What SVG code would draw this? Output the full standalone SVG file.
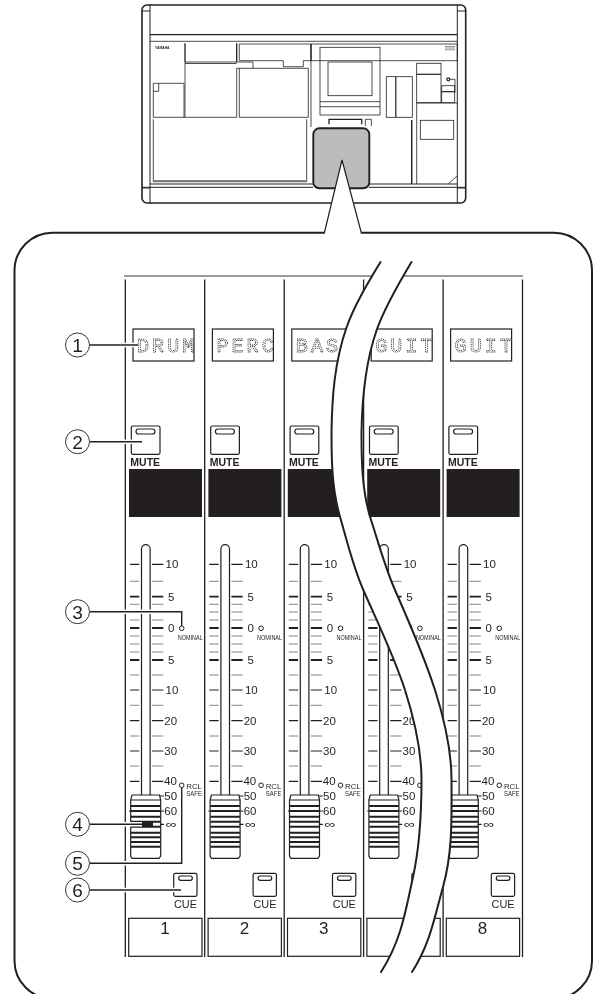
<svg xmlns="http://www.w3.org/2000/svg" xmlns:xlink="http://www.w3.org/1999/xlink" width="594" height="994" viewBox="0 0 594 994">
<style>
text{font-family:"Liberation Sans",Arial,sans-serif;fill:#231f20}
.l{fill:none;stroke:#231f20;stroke-width:.8}
.m{fill:none;stroke:#231f20;stroke-width:1.2}
.h{fill:none;stroke:#231f20;stroke-width:1.8}
.k{fill:none;stroke:#231f20;stroke-width:2.1}
.g{fill:none;stroke:#777;stroke-width:.9}
.d{font-family:"Liberation Mono",monospace;font-size:20px;letter-spacing:3.1px;fill:#fff;stroke:#333;stroke-width:.85;stroke-dasharray:1.1 .8}
.mu{font-size:10.5px;font-weight:bold}
.n{font-size:11.5px}
.sm{font-size:7px}
.cu{font-size:11px}
.nu{font-size:17px;text-anchor:middle}
.c{font-size:19px;text-anchor:middle}
.inf{font-size:11px}
.cir{fill:#fff;stroke:#231f20;stroke-width:.9}
.halo{fill:none;stroke:#fff;stroke-width:4.5}
.co{fill:none;stroke:#231f20;stroke-width:1.4}
</style>
<defs>
<filter id="gs" filterUnits="userSpaceOnUse" x="0" y="0" width="594" height="994" color-interpolation-filters="sRGB"><feOffset dx="0" dy="0"/></filter>
<g id="hw">
<rect class="m" x="133" y="329" width="61" height="32"/>
<rect class="m" x="131.3" y="426" width="28.7" height="28.3" rx="1.5"/>
<rect class="m" x="136" y="429" width="19" height="5" rx="2.5"/>
<rect x="129" y="469" width="73" height="48" fill="#231f20"/>
<path class="m" d="M141.5 796V549a4.3 4.3 0 0 1 8.6 0V796"/>
<path class="m" d="M130 564.3h9.3M152 564.3h11.3M130 690h9.3M152 690h11.3M130 720.7h9.3M152 720.7h11.3M130 751h9.3M152 751h11.3M130 781.3h9.3M152 781.3h11.3"/>
<path class="g" d="M130 581.3h9.3M152 581.3h11.3M130 604.3h9.3M152 604.3h11.3M130 612h9.3M152 612h11.3M130 620h9.3M152 620h11.3M130 636h9.3M152 636h11.3M130 644h9.3M152 644h11.3M130 652h9.3M152 652h11.3M130 675h9.3M152 675h11.3M130 705.3h9.3M152 705.3h11.3M130 736h9.3M152 736h11.3M130 766h9.3M152 766h11.3"/>
<path class="h" d="M130 596.7h9.3M152 596.7h11.3M130 628h9.3M152 628h11.3M130 660h9.3M152 660h11.3"/>
<circle cx="181.7" cy="628.3" r="2.3" fill="#fff" stroke="#231f20"/>
<circle cx="181.7" cy="785.3" r="2.3" fill="#fff" stroke="#231f20"/>
<path d="M132 795H159.5L160.7 800V856L159 858.3H132L130.7 856V800Z" fill="#fff" stroke="#231f20" stroke-width="1.2"/>
<path class="m" d="M130.7 800H160.7M129 811h2M160 796h4M160 811h4M160 824.3h4"/>
<path class="k" d="M131 806H160.5M131 811H160.5M131 816.7H160.5M131 821.7H160.5M131 826.7H160.5M131 832.7H160.5M131 837.3H160.5M131 842H160.5M131 846.7H160.5"/>
<rect class="m" x="173.7" y="873.3" width="23.3" height="23" rx="1.5"/>
<rect class="m" x="178.7" y="876" width="13.6" height="4.3" rx="2"/>
<rect class="m" x="128.7" y="918.3" width="73.3" height="38"/>
</g>
</defs>
<g id="diagram" filter="url(#gs)">
<g id="callout-frame">
<rect x="14.5" y="232.7" width="577.5" height="766" rx="38" fill="#fff" stroke="#231f20" stroke-width="2"/>
</g>
<g id="console" class="l">
<rect x="142" y="5" width="323.7" height="198" rx="5" fill="#fff" stroke-width="1.6"/>
<path d="M150 5V203M457.3 5V203M142 11H150M457.3 11H465.7M142 188H150M457.3 188H465.7" stroke-width="1"/>
<path d="M150 34.7H457.3" stroke-width="1.3"/>
<path d="M150 41.3H457.3"/>
<path d="M150 184H313M369 184H457.3M142 187.3H313M369 187.3H465.7" stroke-width="1"/>
<path d="M185 43.3V62M236.7 43.3V62" stroke-width="1.3"/>
<path d="M185 62H253V68.3M236.7 68.3H308.3V117.3H239.3V68.3M185 63.5H236.7"/>
<path d="M236.7 68.3V117.3H153.3V83.3H184V117.3M185 62V117.3M153.3 91.3H158.7V83.3"/>
<path d="M153.3 119.3V181.7H306.7V119.3"/>
<path d="M153.3 180.6H306.7" stroke="#888" stroke-width="1.4"/>
<path d="M239.3 60.7V44H457.3V60.7H303.3V66.7H283.3V60.7H239.3"/>
<path d="M311 44V60.7" stroke-width="1.6"/>
<path d="M311 60.7V127"/>
<rect x="320" y="47.3" width="60" height="67.7"/>
<path d="M320 101.7H380M320 106.7H380"/>
<rect x="328" y="62" width="44" height="33.7"/>
<path d="M329 124.3V119.3H361.7V124.3" stroke-width="1.3"/>
<path d="M365.3 126V119.3H371.3V126"/>
<rect x="386.3" y="76.7" width="26" height="40.6"/>
<path d="M395.8 76.7V117.3" stroke-width="1.2"/>
<path d="M411.7 120V184" stroke-width="1.4"/>
<rect x="416.7" y="63.3" width="24.3" height="39.4"/>
<path d="M416.7 74.3H441" stroke-width="1.2"/>
<path d="M416.7 103H457.3M416.7 103V184"/>
<circle cx="448.3" cy="79.3" r="1.5" fill="#fff" stroke-width="1.3"/>
<path d="M450 79.3H455V92.7"/>
<rect x="441.7" y="85.7" width="13" height="17"/>
<path d="M441.7 91.7H454.7" stroke-width="1.2"/>
<rect x="420.3" y="120.3" width="33.4" height="19"/>
<path d="M448.3 184L457 176"/>
<path d="M445 46.5h10M445 48h10M445 49.8h10" stroke="#777"/>
<rect x="313.3" y="128.3" width="56" height="60" rx="6" fill="#bbbcbe" stroke-width="1.9"/>
</g>
<text x="155" y="48.5" font-size="3.4" font-weight="bold">YAMAHA</text>
<g id="pointer">
<path d="M324.2 236V233L342 160L361.5 233V236Z" fill="#fff"/>
<path class="m" d="M324.2 233.5L342 160L361.5 233.5" stroke-width="1.5"/>
</g>
<g id="strip-lines" class="m">
<path d="M124 276H523" stroke-width=".9"/>
<path d="M125.3 279.5V957M204.7 279.5V957M284.2 279.5V957M363.6 279.5V957M443.1 279.5V957M522.5 279.5V957" stroke-width="1.3"/>
</g>
<g id="strip-1"><use href="#hw" xlink:href="#hw"/>
<text class="d" x="137" y="352">DRUM</text><text class="mu" x="130.3" y="466">MUTE</text>
<text class="n" x="165.5" y="568.4">10</text><text class="n" x="168" y="600.8">5</text><text class="n" x="168" y="632.1">0</text><text class="n" x="168" y="664.1">5</text><text class="n" x="165.5" y="694.1">10</text><text class="n" x="164.3" y="724.8">20</text><text class="n" x="164.3" y="755.1">30</text><text class="n" x="164" y="785.4">40</text><text class="n" x="164.3" y="800.1">50</text><text class="n" x="164.3" y="814.8">60</text><text class="inf" x="165.7" y="828.3" textLength="11.3" lengthAdjust="spacingAndGlyphs">∞</text>
<text class="sm" x="177.7" y="639.7" textLength="25" lengthAdjust="spacingAndGlyphs">NOMINAL</text>
<text class="sm" x="186.3" y="788.9" font-size="8" textLength="15.7" lengthAdjust="spacingAndGlyphs">RCL</text><text class="sm" x="186.3" y="796.3" textLength="15.7" lengthAdjust="spacingAndGlyphs">SAFE</text>
<text class="cu" x="174" y="907.7" textLength="23" lengthAdjust="spacingAndGlyphs">CUE</text><text class="nu" x="165" y="934">1</text></g>
<g id="strip-2" transform="translate(79.4 0)"><use href="#hw" xlink:href="#hw"/>
<text class="d" x="137" y="352">PERC</text><text class="mu" x="130.3" y="466">MUTE</text>
<text class="n" x="165.5" y="568.4">10</text><text class="n" x="168" y="600.8">5</text><text class="n" x="168" y="632.1">0</text><text class="n" x="168" y="664.1">5</text><text class="n" x="165.5" y="694.1">10</text><text class="n" x="164.3" y="724.8">20</text><text class="n" x="164.3" y="755.1">30</text><text class="n" x="164" y="785.4">40</text><text class="n" x="164.3" y="800.1">50</text><text class="n" x="164.3" y="814.8">60</text><text class="inf" x="165.7" y="828.3" textLength="11.3" lengthAdjust="spacingAndGlyphs">∞</text>
<text class="sm" x="177.7" y="639.7" textLength="25" lengthAdjust="spacingAndGlyphs">NOMINAL</text>
<text class="sm" x="186.3" y="788.9" font-size="8" textLength="15.7" lengthAdjust="spacingAndGlyphs">RCL</text><text class="sm" x="186.3" y="796.3" textLength="15.7" lengthAdjust="spacingAndGlyphs">SAFE</text>
<text class="cu" x="174" y="907.7" textLength="23" lengthAdjust="spacingAndGlyphs">CUE</text><text class="nu" x="165" y="934">2</text></g>
<g id="strip-3" transform="translate(158.8 0)"><use href="#hw" xlink:href="#hw"/>
<text class="d" x="137" y="352">BASS</text><text class="mu" x="130.3" y="466">MUTE</text>
<text class="n" x="165.5" y="568.4">10</text><text class="n" x="168" y="600.8">5</text><text class="n" x="168" y="632.1">0</text><text class="n" x="168" y="664.1">5</text><text class="n" x="165.5" y="694.1">10</text><text class="n" x="164.3" y="724.8">20</text><text class="n" x="164.3" y="755.1">30</text><text class="n" x="164" y="785.4">40</text><text class="n" x="164.3" y="800.1">50</text><text class="n" x="164.3" y="814.8">60</text><text class="inf" x="165.7" y="828.3" textLength="11.3" lengthAdjust="spacingAndGlyphs">∞</text>
<text class="sm" x="177.7" y="639.7" textLength="25" lengthAdjust="spacingAndGlyphs">NOMINAL</text>
<text class="sm" x="186.3" y="788.9" font-size="8" textLength="15.7" lengthAdjust="spacingAndGlyphs">RCL</text><text class="sm" x="186.3" y="796.3" textLength="15.7" lengthAdjust="spacingAndGlyphs">SAFE</text>
<text class="cu" x="174" y="907.7" textLength="23" lengthAdjust="spacingAndGlyphs">CUE</text><text class="nu" x="165" y="934">3</text></g>
<g id="strip-7" transform="translate(238.2 0)"><use href="#hw" xlink:href="#hw"/>
<text class="d" x="137" y="352">GUIT</text><text class="mu" x="130.3" y="466">MUTE</text>
<text class="n" x="165.5" y="568.4">10</text><text class="n" x="168" y="600.8">5</text><text class="n" x="168" y="632.1">0</text><text class="n" x="168" y="664.1">5</text><text class="n" x="165.5" y="694.1">10</text><text class="n" x="164.3" y="724.8">20</text><text class="n" x="164.3" y="755.1">30</text><text class="n" x="164" y="785.4">40</text><text class="n" x="164.3" y="800.1">50</text><text class="n" x="164.3" y="814.8">60</text><text class="inf" x="165.7" y="828.3" textLength="11.3" lengthAdjust="spacingAndGlyphs">∞</text>
<text class="sm" x="177.7" y="639.7" textLength="25" lengthAdjust="spacingAndGlyphs">NOMINAL</text></g>
<g id="strip-8" transform="translate(317.6 0)"><use href="#hw" xlink:href="#hw"/>
<text class="d" x="137" y="352">GUIT</text><text class="mu" x="130.3" y="466">MUTE</text>
<text class="n" x="165.5" y="568.4">10</text><text class="n" x="168" y="600.8">5</text><text class="n" x="168" y="632.1">0</text><text class="n" x="168" y="664.1">5</text><text class="n" x="165.5" y="694.1">10</text><text class="n" x="164.3" y="724.8">20</text><text class="n" x="164.3" y="755.1">30</text><text class="n" x="164" y="785.4">40</text><text class="n" x="164.3" y="800.1">50</text><text class="n" x="164.3" y="814.8">60</text><text class="inf" x="165.7" y="828.3" textLength="11.3" lengthAdjust="spacingAndGlyphs">∞</text>
<text class="sm" x="177.7" y="639.7" textLength="25" lengthAdjust="spacingAndGlyphs">NOMINAL</text>
<text class="sm" x="186.3" y="788.9" font-size="8" textLength="15.7" lengthAdjust="spacingAndGlyphs">RCL</text><text class="sm" x="186.3" y="796.3" textLength="15.7" lengthAdjust="spacingAndGlyphs">SAFE</text>
<text class="cu" x="174" y="907.7" textLength="23" lengthAdjust="spacingAndGlyphs">CUE</text><text class="nu" x="165" y="934">8</text></g>
<g id="break-band">
<path fill="#fff" d="M380.5 262C367.5 283.7 354.3 305.3 346.7 327C334.3 362.3 332 397.7 331.5 433C331.5 460.9 331.9 488.8 340 516.7C347.1 541.1 352.6 565.6 363.3 590C378 623.3 394.3 656.7 405 690C414.6 720 421.5 750 421.5 780C421.5 812.3 420.1 844.7 413 877C406 908.7 401.6 940.3 381 972L412 972C430.4 943.7 435 915.3 443 887C453 851.3 451.5 815.7 451.5 780C451.5 750 444.6 720 435 690C424.3 656.7 409.7 623.3 395 590C384.3 565.6 378.1 541.1 370 516.7C361.9 488.8 361.5 460.9 361.5 433C362 398.7 364.7 364.3 376.7 330C384.7 307.3 397.9 284.7 411.5 262Z"/>
<path fill="none" stroke="#231f20" stroke-width="2" stroke-linecap="round" d="M380.5 262C367.5 283.7 354.3 305.3 346.7 327C334.3 362.3 332 397.7 331.5 433C331.5 460.9 331.9 488.8 340 516.7C347.1 541.1 352.6 565.6 363.3 590C378 623.3 394.3 656.7 405 690C414.6 720 421.5 750 421.5 780C421.5 812.3 420.1 844.7 413 877C406 908.7 401.6 940.3 381 972M412 972C430.4 943.7 435 915.3 443 887C453 851.3 451.5 815.7 451.5 780C451.5 750 444.6 720 435 690C424.3 656.7 409.7 623.3 395 590C384.3 565.6 378.1 541.1 370 516.7C361.9 488.8 361.5 460.9 361.5 433C362 398.7 364.7 364.3 376.7 330C384.7 307.3 397.9 284.7 411.5 262"/>
</g>
<g id="connectors">
<path class="halo" d="M90 345H137M90 441.7H142M90 611.7H181.7V625M90 824.3H142M90 863.3H181.7V789M90 890H180"/>
<path class="co" d="M90 345H138M90 441.7H142M90 611.7H181.7V626M90 824.3H142M90 863.3H181.7V788M90 890H181"/>
<rect x="142" y="821.5" width="11" height="5.6" fill="#231f20"/>
</g>
<g id="callout-1"><circle class="cir" cx="77.5" cy="345" r="12"/><text class="c" x="77.5" y="351.8">1</text></g>
<g id="callout-2"><circle class="cir" cx="77.5" cy="441.7" r="12"/><text class="c" x="77.5" y="448.5">2</text></g>
<g id="callout-3"><circle class="cir" cx="77.5" cy="611.7" r="12"/><text class="c" x="77.5" y="618.5">3</text></g>
<g id="callout-4"><circle class="cir" cx="77.5" cy="824.3" r="12"/><text class="c" x="77.5" y="831.1">4</text></g>
<g id="callout-5"><circle class="cir" cx="77.5" cy="863.3" r="12"/><text class="c" x="77.5" y="870.1">5</text></g>
<g id="callout-6"><circle class="cir" cx="77.5" cy="890" r="12"/><text class="c" x="77.5" y="896.8">6</text></g>
</g>
</svg>
